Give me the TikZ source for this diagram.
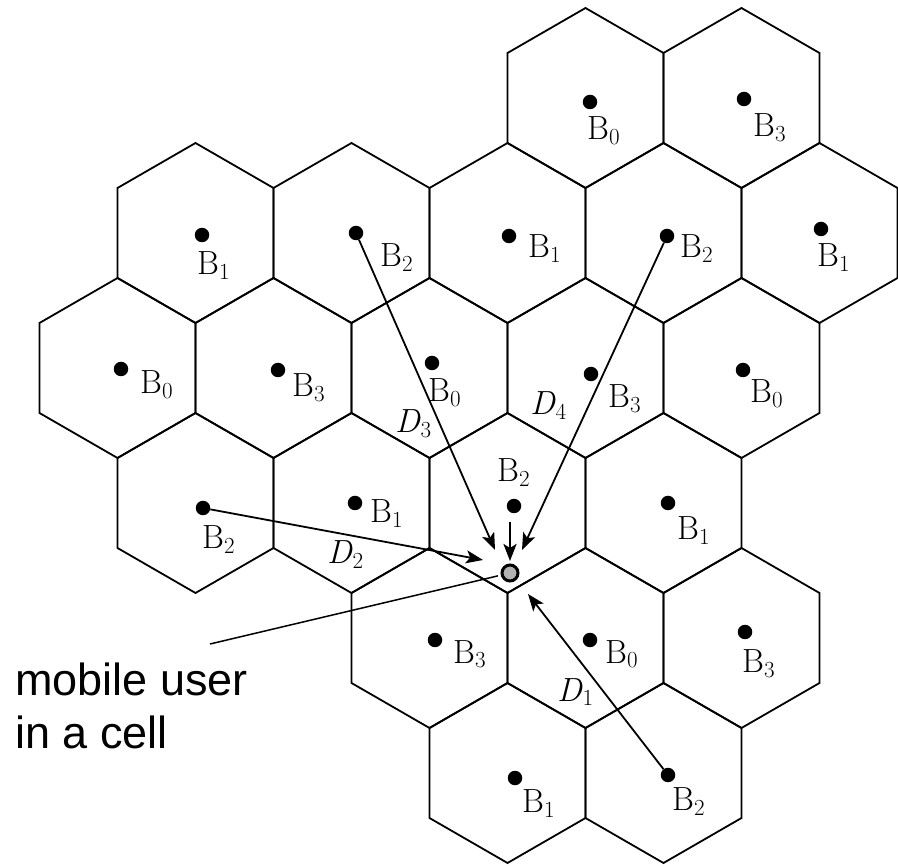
\documentclass[tikz,border=0pt]{standalone}
\usepackage{fontspec}
\setmainfont{Latin Modern Roman}
\newfontfamily\labelsans{Liberation Sans}
\usetikzlibrary{arrows.meta}
\newcommand\lsub[1]{\raisebox{-5pt}{\fontsize{23}{28}\selectfont #1}}
\newcommand\Bl[1]{B\lsub{#1}}
\newcommand\Dl[1]{\textit{D}\lsub{#1}}
\begin{document}
\begin{tikzpicture}[x=1pt,y=-1pt,
  hex/.style={line width=1.8pt, line join=miter},
  bs/.style={circle, fill=black, inner sep=0pt, minimum size=14.5pt},
  lab/.style={anchor=base west, inner sep=0pt, font=\fontsize{33.5}{40}\selectfont},
  arr/.style={line width=1.8pt, -{Stealth[length=17pt,width=13pt,inset=4pt]}},
  userdot/.style={circle, draw=black, line width=3pt, fill=gray!60, inner sep=0pt, minimum size=16pt},
  callout/.style={anchor=north west, inner sep=0pt, align=left, font=\labelsans\fontsize{45}{53}\selectfont}
]
\useasboundingbox (0,0) rectangle (898,866);

% hexagonal cells
\foreach \cx/\cy in {585.5/98, 741.5/98,
  195.5/233, 351.5/233, 507.5/233, 663.5/233, 819.5/233,
  117.5/368, 273.5/368, 429.5/368, 585.5/368, 741.5/368,
  195.5/503, 351.5/503, 507.5/503, 663.5/503,
  429.5/638, 585.5/638, 741.5/638,
  507.5/773, 663.5/773}
  \draw[hex] (\cx,\cy-90) -- (\cx+78,\cy-45) -- (\cx+78,\cy+45) -- (\cx,\cy+90)
     -- (\cx-78,\cy+45) -- (\cx-78,\cy-45) -- cycle;

% base stations (dots) and labels
\node[bs] (a1) at (590,102) {};  \node[lab] (la1) at (587,140) {\Bl{0}};
\node[bs] (a2) at (744,99) {};   \node[lab] (la2) at (753,137) {\Bl{3}};

\node[bs] (b1) at (202,235) {};  \node[lab] (lb1) at (197,275) {\Bl{1}};
\node[bs] (b2) at (356,233) {};  \node[lab] (lb2) at (380,267) {\Bl{2}};
\node[bs] (b3) at (509,236) {};  \node[lab] (lb3) at (528,258) {\Bl{1}};
\node[bs] (b4) at (667,236) {};  \node[lab] (lb4) at (680,258) {\Bl{2}};
\node[bs] (b5) at (821,229) {};  \node[lab] (lb5) at (817,267) {\Bl{1}};

\node[bs] (c1) at (121,369) {};  \node[lab] (lc1) at (140,394) {\Bl{0}};
\node[bs] (c2) at (278,370) {};  \node[lab] (lc2) at (292,397) {\Bl{3}};
\node[bs] (c3) at (432,363) {};  \node[lab] (lc3) at (428,402) {\Bl{0}};
\node[bs] (c4) at (591,374) {};  \node[lab] (lc4) at (608,408) {\Bl{3}};
\node[bs] (c5) at (743,370) {};  \node[lab] (lc5) at (750,403) {\Bl{0}};

\node[bs] (d1) at (203,508) {};  \node[lab] (ld1) at (202,549) {\Bl{2}};
\node[bs] (d2) at (355,503) {};  \node[lab] (ld2) at (370,523) {\Bl{1}};
\node[bs] (d3) at (514,506) {};  \node[lab] (ld3) at (497,482) {\Bl{2}};
\node[bs] (d4) at (668,503) {};  \node[lab] (ld4) at (677,540) {\Bl{1}};

\node[bs] (e1) at (435,640) {};  \node[lab] (le1) at (453,663) {\Bl{3}};
\node[bs] (e2) at (590,640) {};  \node[lab] (le2) at (605,663) {\Bl{0}};
\node[bs] (e3) at (745,632) {};  \node[lab] (le3) at (742,673) {\Bl{3}};

\node[bs] (f1) at (515,778) {};  \node[lab] (lf1) at (522,812) {\Bl{1}};
\node[bs] (f2) at (668,775) {};  \node[lab] (lf2) at (672,810) {\Bl{2}};

% mobile user
\node[userdot] (user) at (510,573) {};

% interference arrows
\coordinate (t3) at (495,550);
\coordinate (t4) at (522,550);
\coordinate (t2) at (483,560);
\coordinate (t1) at (528,594);
\coordinate (s0) at (510,522);
\coordinate (t0) at (510,561);
\draw[arr] (b2) -- (t3);
\draw[arr] (b4) -- (t4);
\draw[arr] (d1) -- (t2);
\draw[arr] (f2) -- (t1);
\draw[arr, line width=2.6pt] (s0) -- (t0);

% distance labels
\node[lab] (D3) at (395,433) {\Dl{3}};
\node[lab] (D4) at (530,415) {\Dl{4}};
\node[lab] (D2) at (327,564) {\Dl{2}};
\node[lab] (D1) at (557,701) {\Dl{1}};

% callout
\coordinate (mu) at (210,644);
\draw[line width=1.5pt, shorten >=3pt] (mu) -- (user);
\node[callout] (txt) at (15,663) {mobile user\\in a cell};
\end{tikzpicture}
\end{document}
